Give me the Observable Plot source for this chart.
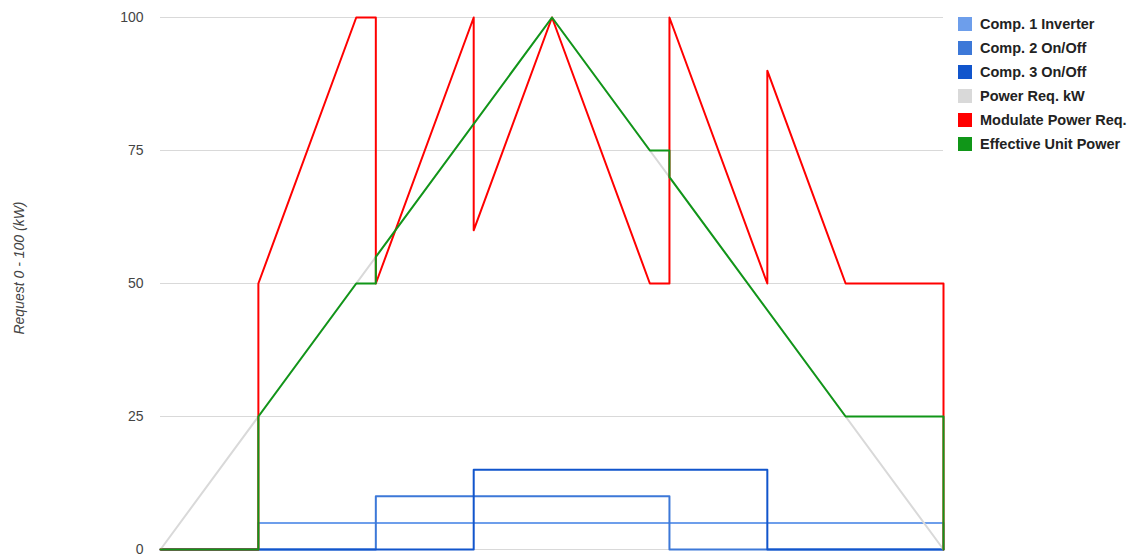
<!DOCTYPE html>
<html>
<head>
<meta charset="utf-8">
<script src="https://cdn.jsdelivr.net/npm/d3@7"></script>
<script src="https://cdn.jsdelivr.net/npm/@observablehq/plot@0.6"></script>
<style>
  html, body { margin: 0; padding: 0; background: #fff; }
  #wrap { position: relative; width: 1137px; height: 554px; font-family: "Liberation Sans", Arial, sans-serif; }
  #legend { position: absolute; left: 958px; top: 12px; }
  .item { display: flex; align-items: center; height: 24px; font-size: 14.5px; font-weight: bold; color: #222; white-space: nowrap; }
  .sw { width: 14px; height: 14px; margin-right: 8px; flex: none; }
  #ytitle { position: absolute; left: 19px; top: 268px; transform: translate(-50%, -50%) rotate(-90deg); font-size: 14px; font-style: italic; color: #444; white-space: nowrap; }
</style>
</head>
<body>
<div id="wrap">
  <div id="chart"></div>
  <div id="ytitle">Request 0 - 100 (kW)</div>
  <div id="legend"></div>
</div>
<script>
// Series names and colours
const seriesNames = ["Comp. 1 Inverter", "Comp. 2 On/Off", "Comp. 3 On/Off", "Power Req. kW", "Modulate Power Req.", "Effective Unit Power"];
const seriesColors = ["#6d9eeb", "#3c78d8", "#1155cc", "#d9d9d9", "#ff0000", "#109618"];
const yTicks = [0, 25, 50, 75, 100];

// Breakpoints (step index) and values for each series
const comp1X = [0, 25, 25, 200, 200];
const comp1Y = [0, 0, 5, 5, 0];
const comp2X = [0, 55, 55, 130, 130, 200];
const comp2Y = [0, 0, 10, 10, 0, 0];
const comp3X = [0, 80, 80, 155, 155, 200];
const comp3Y = [0, 0, 15, 15, 0, 0];
const powerX = [0, 100, 200];
const powerY = [0, 100, 0];
const modX = [0, 25, 25, 50, 55, 55, 80, 80, 100, 125, 130, 130, 155, 155, 175, 200, 200];
const modY = [0, 0, 50, 100, 100, 50, 100, 60, 100, 50, 50, 100, 50, 90, 50, 50, 0];
const effX = [0, 25, 25, 50, 55, 55, 100, 125, 130, 130, 175, 200, 200];
const effY = [0, 0, 25, 50, 50, 55, 100, 75, 75, 70, 25, 25, 0];

const seriesX = [comp1X, comp2X, comp3X, powerX, modX, effX];
const seriesY = [comp1Y, comp2Y, comp3Y, powerY, modY, effY];

const data = [];
seriesNames.forEach((name, i) => {
  seriesX[i].forEach((x, j) => data.push({series: name, x, y: seriesY[i][j], order: i}));
});

const chart = Plot.plot({
  width: 1137,
  height: 554,
  marginLeft: 160,
  marginRight: 194,
  marginTop: 17,
  marginBottom: 5,
  style: {fontFamily: "Liberation Sans, Arial, sans-serif", fontSize: "14px", background: "white", overflow: "visible"},
  x: {domain: [0, 200], axis: null},
  y: {domain: [0, 100], ticks: yTicks, label: null},
  color: {domain: seriesNames, range: seriesColors},
  marks: [
    Plot.gridY(yTicks, {stroke: "#d9d9d9", strokeOpacity: 1, strokeWidth: 1}),
    Plot.axisY(yTicks, {tickSize: 0, tickPadding: 17, fill: "#444", label: null, fontSize: 14}),
    ...seriesNames.map(name => Plot.line(data.filter(d => d.series === name), {
      x: "x", y: "y", stroke: "series", strokeWidth: 2, curve: "linear"
    }))
  ]
});
document.getElementById("chart").appendChild(chart);

const legend = document.getElementById("legend");
seriesNames.forEach((name, i) => {
  const it = document.createElement("div");
  it.className = "item";
  const sw = document.createElement("div");
  sw.className = "sw";
  sw.style.background = seriesColors[i];
  it.appendChild(sw);
  it.appendChild(document.createTextNode(name));
  legend.appendChild(it);
});
</script>
</body>
</html>
